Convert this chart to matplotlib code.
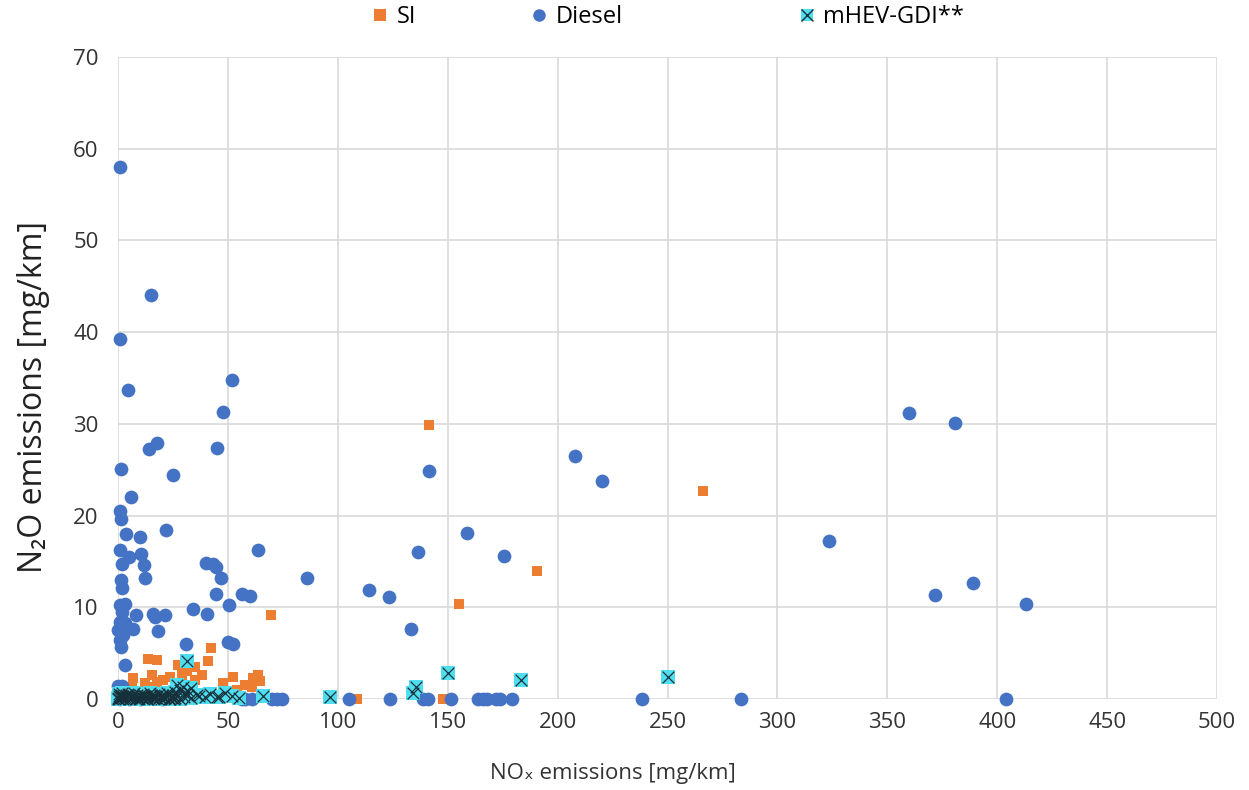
import matplotlib
matplotlib.use("Agg")
import matplotlib.pyplot as plt
from matplotlib.lines import Line2D

plt.rcParams['font.family'] = ['Open Sans', 'DejaVu Sans']

# ---- data (NOx [mg/km], N2O [mg/km]) ----
si_x = [141.7, 266.0, 190.8, 155.1, 69.5, 42.3, 13.8, 17.6, 41.1, 27.4, 35.0, 31.3,
        7.0, 15.3, 12.3, 17.6, 23.7, 29.0, 20.6, 38.1, 35.0, 52.5, 47.9, 61.6,
        63.8, 64.6, 57.8, 60.8, 54.0, 39.6, 44.1, 6.2, 15.3, 108.9, 147.7,
        25.0, 10.0, 50.0]
si_y = [29.85, 22.7, 14.0, 10.4, 9.2, 5.6, 4.4, 4.3, 4.1, 3.7, 3.5, 3.0,
        2.3, 2.6, 1.7, 1.9, 2.4, 2.6, 2.1, 2.6, 2.1, 2.4, 1.7, 2.3,
        2.6, 2.0, 1.5, 1.3, 1.0, 0.6, 0.4, 1.2, 1.3, 0.0, 0.0,
        1.0, 0.8, 0.5]

diesel_x = [0.8, 15.2, 0.8, 4.5, 51.9, 47.8, 17.7, 14.1, 45.2, 1.2, 25.0, 5.8,
            0.8, 1.5, 3.8, 9.9, 22.0, 63.5, 0.8, 4.9, 10.6, 1.8, 11.7, 12.4,
            1.2, 1.8, 40.0, 43.4, 44.6, 46.7, 44.6, 56.3, 60.0, 50.6, 34.0, 40.6,
            50.2, 52.5, 31.0, 0.8, 3.3, 1.8, 8.3, 15.9, 16.7, 21.2, 0.8, 3.0,
            6.8, 18.2, 0.0, 2.3, 0.8, 1.5, 3.2, 0.1, 1.7,
            86.0, 114.2, 123.3, 133.3, 141.7, 207.7, 220.4, 136.4, 158.9, 175.8,
            323.6, 359.8, 380.6, 371.7, 389.2, 413.2,
            56.3, 57.8, 60.8, 69.9, 72.2, 74.5, 105.1, 123.7, 138.6, 141.2, 151.5,
            163.9, 166.2, 167.7, 172.0, 173.8, 179.1, 238.3, 283.3, 404.0,
            1.0, 5.0, 10.0, 20.0]
diesel_y = [58.0, 44.0, 39.3, 33.7, 34.8, 31.3, 27.9, 27.3, 27.4, 25.1, 24.4, 22.0,
            20.5, 19.6, 18.0, 17.7, 18.4, 16.2, 16.3, 15.5, 15.8, 14.7, 14.6, 13.2,
            13.0, 12.1, 14.8, 14.7, 14.4, 13.2, 11.4, 11.5, 11.2, 10.2, 9.8, 9.3,
            6.2, 6.0, 6.0, 10.2, 10.4, 9.5, 9.2, 9.3, 8.9, 9.2, 8.4, 8.3,
            7.6, 7.4, 7.5, 7.0, 6.4, 5.7, 3.7, 1.4, 1.4,
            13.2, 11.9, 11.1, 7.6, 24.9, 26.5, 23.8, 16.0, 18.1, 15.6,
            17.2, 31.2, 30.1, 11.3, 12.6, 10.4,
            0.0, 0.0, 0.0, 0.0, 0.0, 0.0, 0.0, 0.0, 0.0, 0.0, 0.0,
            0.0, 0.0, 0.0, 0.0, 0.0, 0.0, 0.0, 0.0, 0.0,
            0.0, 0.0, 0.0, 0.0]

mhev_x = [31.2, 29.7, 66.1, 48.7, 44.9, 39.6, 35.8, 96.5, 134.4, 135.4, 150.0,
          183.2, 250.4,
          0.0, 0.3, 0.6, 1.0, 1.5, 2.0, 2.5, 3.0, 4.0, 5.0, 6.0, 7.0, 8.0, 9.0,
          10.0, 11.0, 12.0, 13.0, 14.0, 15.0, 16.0, 17.0, 18.0, 19.0, 20.0, 21.0,
          22.0, 23.0, 24.0, 25.0, 26.0, 27.0, 28.0, 30.0, 32.0, 33.0,
          0.5, 2.0, 4.5, 7.5, 11.5, 14.5, 18.5, 22.5, 26.0, 28.0, 30.0, 33.0,
          27.0, 32.0, 37.0, 42.0, 46.0, 52.0, 55.0,
          0.2, 1.2, 2.2, 3.5, 5.5, 6.5, 8.5, 9.5, 10.5, 12.5, 13.5, 15.5,
          16.5, 17.5, 19.5, 20.5, 21.5, 23.5, 24.5, 25.5,
          1.8, 3.8, 6.2, 8.8, 12.8, 16.2, 19.8, 23.2]
mhev_y = [4.1, 1.3, 0.3, 0.6, 0.25, 0.2, 0.4, 0.2, 0.6, 1.3, 2.8,
          2.1, 2.4,
          0.1, 0.3, 0.0, 0.2, 0.4, 0.1, 0.3, 0.0, 0.2, 0.4, 0.1, 0.3, 0.0, 0.2,
          0.4, 0.1, 0.3, 0.0, 0.2, 0.4, 0.1, 0.3, 0.0, 0.2, 0.4, 0.1,
          0.3, 0.0, 0.2, 0.4, 0.1, 0.3, 0.0, 0.2, 0.4, 0.1,
          0.5, 0.6, 0.5, 0.6, 0.5, 0.6, 0.5, 0.7, 0.8, 1.0, 0.7, 1.2,
          1.5, 0.9, 0.3, 0.5, 0.2, 0.3, 0.1,
          0.0, 0.1, 0.0, 0.1, 0.0, 0.2, 0.1, 0.0, 0.2, 0.1, 0.0, 0.2,
          0.0, 0.1, 0.0, 0.2, 0.1, 0.0, 0.1, 0.0,
          0.3, 0.4, 0.3, 0.4, 0.3, 0.4, 0.3, 0.4]

x_ticks = [0, 50, 100, 150, 200, 250, 300, 350, 400, 450, 500]
y_ticks = [0, 10, 20, 30, 40, 50, 60, 70]

SI_C = '#ED7D31'
DI_C = '#4472C4'
MH_C = '#4FDDF0'
X_C = '#15303a'

fig = plt.figure(figsize=(12.49, 7.90), dpi=100)
ax = fig.add_axes([118/1249, 1-699/790, (1217-118)/1249, (699-57)/790])

ax.scatter(si_x, si_y, marker='s', s=62, color=SI_C, linewidths=0, zorder=3, clip_on=False)
ax.scatter(diesel_x, diesel_y, marker='o', s=98, color=DI_C, linewidths=0, zorder=4, clip_on=False)
ax.scatter(mhev_x, mhev_y, marker='s', s=100, color=MH_C, linewidths=0, zorder=5, clip_on=False)
ax.scatter(mhev_x, mhev_y, marker='x', s=70, color=X_C, linewidths=0.9, zorder=6, clip_on=False)

ax.set_xlim(0, 500)
ax.set_ylim(0, 70)
ax.set_xticks(x_ticks)
ax.set_yticks(y_ticks)
ax.grid(True, color='#d9d9d9', linewidth=1.2, zorder=0)
ax.set_axisbelow(True)
for sp in ax.spines.values():
    sp.set_visible(False)
ax.tick_params(length=0, labelsize=16, colors='#333333')
ax.tick_params(axis='x', pad=9)
ax.tick_params(axis='y', pad=14)

ax.set_xlabel('NOₓ emissions [mg/km]', fontsize=16, color='#333333')
ax.set_ylabel('N₂O emissions [mg/km]', fontsize=23, color='#222222')
ax.xaxis.set_label_coords(0.45, -0.10)
ax.yaxis.set_label_coords(-0.062, 0.47)

handles = [
    [Line2D([], [], linestyle='none', marker='s', markersize=8, color=SI_C, markeredgewidth=0)],
    [Line2D([], [], linestyle='none', marker='o', markersize=9, color=DI_C, markeredgewidth=0)],
    [(Line2D([], [], linestyle='none', marker='s', markersize=9, color=MH_C, markeredgewidth=0),
      Line2D([], [], linestyle='none', marker='x', markersize=8, color=X_C, markeredgewidth=1.0))],
]
labels = ['SI', 'Diesel', 'mHEV-GDI**']
legend_x = [368/1249, 527/1249, 795/1249]
for h, lab, lx in zip(handles, labels, legend_x):
    fig.legend(h, [lab], loc='center left', bbox_to_anchor=(lx, 1-17/790),
               frameon=False, fontsize=17, handletextpad=0.2, handlelength=1.0,
               borderpad=0, borderaxespad=0)

fig.savefig('out.png', dpi=100)
